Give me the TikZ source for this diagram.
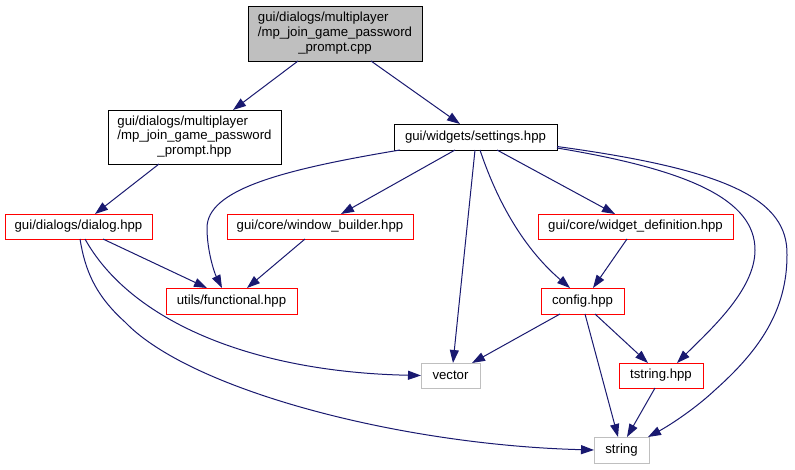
\documentclass[tikz,border=0pt]{standalone}
\usepackage{fontspec}
\setmainfont{Liberation Sans}
\usetikzlibrary{arrows.meta,calc}
\definecolor{edgecol}{RGB}{25,25,112}
\definecolor{gborder}{RGB}{191,191,191}
\definecolor{rborder}{RGB}{255,0,0}
\tikzset{
  box/.style={draw, line width=1pt, inner sep=0pt, outer sep=0pt,
    font=\fontsize{13.2}{14.7}\selectfont, align=center},
  redbox/.style={box, draw=rborder},
  graybox/.style={box, draw=gborder},
  blackbox/.style={box, draw=black},
  edgeline/.style={draw=edgecol, line width=1pt, -{Triangle[length=13pt,width=9pt]}},
}
\newcommand{\threelines}[3]{\begin{tabular}{@{}l@{}}#1\\#2\\\multicolumn{1}{@{}c@{}}{#3}\end{tabular}}
\begin{document}
\begin{tikzpicture}[x=1pt,y=-1pt]
\useasboundingbox[fill=white] (0,0) rectangle (795,469);
% nodes
\node[blackbox, fill=gborder, minimum width=174pt, minimum height=55pt] (top) at (335,33.5)
  {\threelines{gui/dialogs/multiplayer}{/mp\_join\_game\_password}{\_prompt.cpp}};
\node[blackbox, minimum width=173pt, minimum height=54pt] (phpp) at (194.5,137)
  {\threelines{gui/dialogs/multiplayer}{/mp\_join\_game\_password}{\_prompt.hpp}};
\node[blackbox, minimum width=163pt, minimum height=26pt] (set) at (475.5,137) {gui/widgets/settings.hpp};
\node[redbox, minimum width=147pt, minimum height=25pt] (dlg) at (78.5,226.5) {gui/dialogs/dialog.hpp};
\node[redbox, minimum width=186pt, minimum height=25pt] (wb) at (320,226.5) {gui/core/window\_builder.hpp};
\node[redbox, minimum width=195pt, minimum height=25pt] (wd) at (635.5,226.5) {gui/core/widget\_definition.hpp};
\node[redbox, minimum width=131pt, minimum height=26pt] (func) at (231.5,301) {utils/functional.hpp};
\node[redbox, minimum width=83pt, minimum height=26pt] (cfg) at (582.5,301) {config.hpp};
\node[graybox, minimum width=59pt, minimum height=25pt] (vec) at (450.5,375.5) {vector};
\node[redbox, minimum width=84pt, minimum height=25pt] (tstr) at (661,375.5) {tstring.hpp};
\node[graybox, minimum width=55pt, minimum height=26pt] (str) at (621.5,450) {string};
% edges
\path[edgeline] ($(top.south)+(-37,0)$) -- ($(phpp.north)+(38.5,0)$);
\path[edgeline] ($(top.south)+(36,0)$) -- ($(set.north)+(-15.5,0)$);
\path[edgeline] ($(phpp.south)+(-35.5,0)$) -- ($(dlg.north)+(16.5,0)$);
\path[edgeline] ($(set.south)+(-75.5,0)$) .. controls (280,170) and (207,190) .. (207,228)
  .. controls (207,250) and (214,272) .. ($(func.north)+(-9.5,0)$);
\path[edgeline] ($(set.south)+(-20.5,0)$) -- ($(wb.north)+(21,0)$);
\path[edgeline] ($(set.south)+(-0.5,0)$) -- ($(vec.north)+(2.5,0)$);
\path[edgeline] ($(set.south)+(4.5,0)$) .. controls (495,195) and (520,245) .. ($(cfg.north)+(-12.5,0)$);
\path[edgeline] ($(set.south)+(21.5,0)$) -- ($(wd.north)+(-20.5,0)$);
\path[edgeline] ($(set.south east)+(0,-2)$) .. controls (690,170) and (755,200) .. (755,250)
  .. controls (755,290) and (710,330) .. ($(tstr.north)+(16,0)$);
\path[edgeline] ($(set.south east)+(0,-3.5)$) .. controls (730,170) and (788,200) .. (787,255)
  .. controls (787,310) and (760,350) .. (715,390)
  .. controls (697,407) and (672,424) .. ($(str.north east)+(-1,0)$);
\path[edgeline] ($(wd.south)+(-8.5,0)$) -- ($(cfg.north)+(10.5,0)$);
\path[edgeline] ($(wb.south)+(-15,0)$) -- ($(func.north)+(15.5,0)$);
\path[edgeline] ($(dlg.south)+(24.5,0)$) -- ($(func.north)+(-24.5,0)$);
\path[edgeline] ($(dlg.south)+(6.5,0)$) .. controls (130,320) and (250,372) .. (vec.west);
\path[edgeline] ($(dlg.south)+(1.5,0)$) .. controls (85,270) and (95,295) .. (125,322)
  .. controls (190,390) and (400,445) .. (str.west);
\path[edgeline] ($(cfg.south)+(-22.5,0)$) -- ($(vec.north)+(21.5,0)$);
\path[edgeline] ($(cfg.south)+(2.5,0)$) -- ($(str.north)+(-3.5,0)$);
\path[edgeline] ($(cfg.south)+(12.5,0)$) -- ($(tstr.north)+(-13,0)$);
\path[edgeline] ($(tstr.south)+(-6,0)$) -- ($(str.north)+(5.5,0)$);
\end{tikzpicture}
\end{document}
